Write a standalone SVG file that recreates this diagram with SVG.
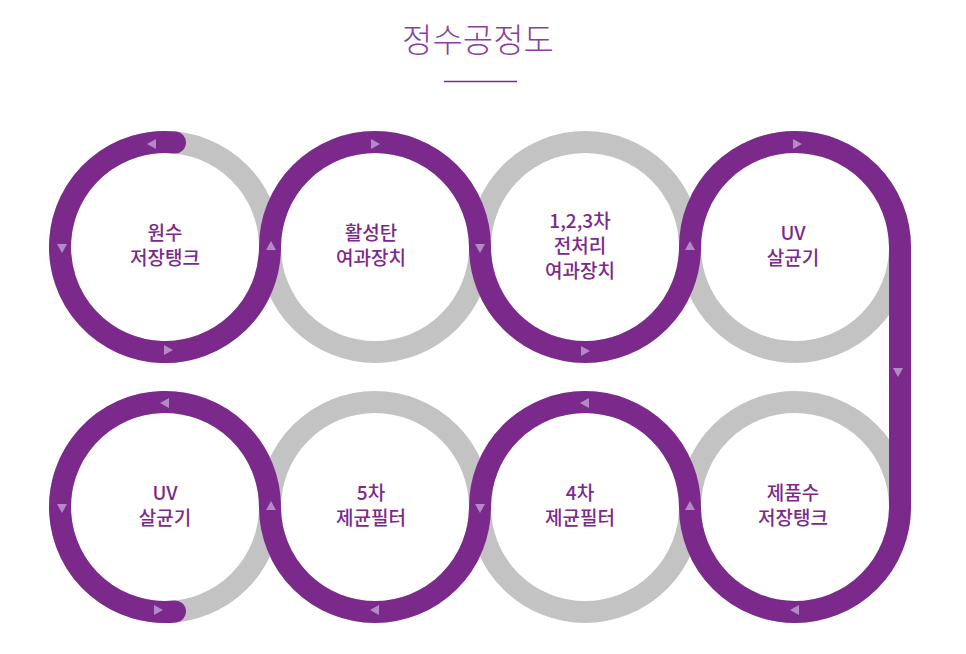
<svg xmlns="http://www.w3.org/2000/svg" xmlns:xlink="http://www.w3.org/1999/xlink" width="966" height="654" viewBox="0 0 966 654">
<style>
.g{fill:none;stroke:#c3c3c3;stroke-width:22}
.p{fill:none;stroke:#7b2a8c;stroke-width:22;stroke-linecap:round}
.t{font-family:"Noto Sans CJK KR","Noto Sans",sans-serif;font-size:19px;font-weight:500;fill:#7b2a8c;text-anchor:middle}
.a{fill:#b38ac6}
</style>
<defs><polygon id="tri" points="-4,-5 5,0 -4,5"/></defs>
<rect width="966" height="654" fill="#fff"/>
<text x="478" y="52" style="font-family:'Noto Sans CJK KR',sans-serif;font-size:33px;font-weight:300;fill:#8a3fa0;text-anchor:middle">정수공정도</text>
<line x1="444" y1="81.5" x2="517" y2="81.5" stroke="#7b2a8c" stroke-width="1.3"/>
<g id="rings">
<circle class="g" cx="165" cy="247" r="105"/><circle class="g" cx="375" cy="247" r="105"/><circle class="g" cx="585" cy="247" r="105"/><circle class="g" cx="795" cy="247" r="105"/>
<circle class="g" cx="165" cy="507" r="105"/><circle class="g" cx="375" cy="507" r="105"/><circle class="g" cx="585" cy="507" r="105"/><circle class="g" cx="795" cy="507" r="105"/>
</g>
<g id="connectors">
<path class="p" d="M175,142.5 A105,105 0 1 0 270,247 A105,105 0 0 1 480,247 A105,105 0 0 0 690,247 A105,105 0 0 1 900,247 L900,507 A105,105 0 0 1 690,507 A105,105 0 0 0 480,507 A105,105 0 0 1 270,507 A105,105 0 1 0 175,611.5"/>
<g class="a">
<use xlink:href="#tri" transform="translate(152,144) rotate(180)"/>
<use xlink:href="#tri" transform="translate(62,248) rotate(90)"/>
<use xlink:href="#tri" transform="translate(168,350)"/>
<use xlink:href="#tri" transform="translate(271,246) rotate(-90)"/>
<use xlink:href="#tri" transform="translate(375,144)"/>
<use xlink:href="#tri" transform="translate(480,248) rotate(90)"/>
<use xlink:href="#tri" transform="translate(585,351)"/>
<use xlink:href="#tri" transform="translate(690,246) rotate(-90)"/>
<use xlink:href="#tri" transform="translate(797,144)"/>
<use xlink:href="#tri" transform="translate(898,372) rotate(90)"/>
<use xlink:href="#tri" transform="translate(795,610) rotate(180)"/>
<use xlink:href="#tri" transform="translate(690,506) rotate(-90)"/>
<use xlink:href="#tri" transform="translate(585,403) rotate(180)"/>
<use xlink:href="#tri" transform="translate(480,508) rotate(90)"/>
<use xlink:href="#tri" transform="translate(375,610) rotate(180)"/>
<use xlink:href="#tri" transform="translate(271,506) rotate(-90)"/>
<use xlink:href="#tri" transform="translate(165,403) rotate(180)"/>
<use xlink:href="#tri" transform="translate(62,508) rotate(90)"/>
<use xlink:href="#tri" transform="translate(158,610)"/>
</g>
</g>
<g id="n1"><text class="t" x="165" y="240">원수</text><text class="t" x="165" y="265">저장탱크</text></g>
<g id="n2"><text class="t" x="371" y="240">활성탄</text><text class="t" x="371" y="265">여과장치</text></g>
<g id="n3"><text class="t" x="580" y="228">1,2,3차</text><text class="t" x="580" y="253">전처리</text><text class="t" x="580" y="278">여과장치</text></g>
<g id="n4"><text class="t" x="793" y="240">UV</text><text class="t" x="793" y="265">살균기</text></g>
<g id="n5"><text class="t" x="165" y="500">UV</text><text class="t" x="165" y="525">살균기</text></g>
<g id="n6"><text class="t" x="371" y="500">5차</text><text class="t" x="371" y="525">제균필터</text></g>
<g id="n7"><text class="t" x="580" y="500">4차</text><text class="t" x="580" y="525">제균필터</text></g>
<g id="n8"><text class="t" x="793" y="500">제품수</text><text class="t" x="793" y="525">저장탱크</text></g>
</svg>
